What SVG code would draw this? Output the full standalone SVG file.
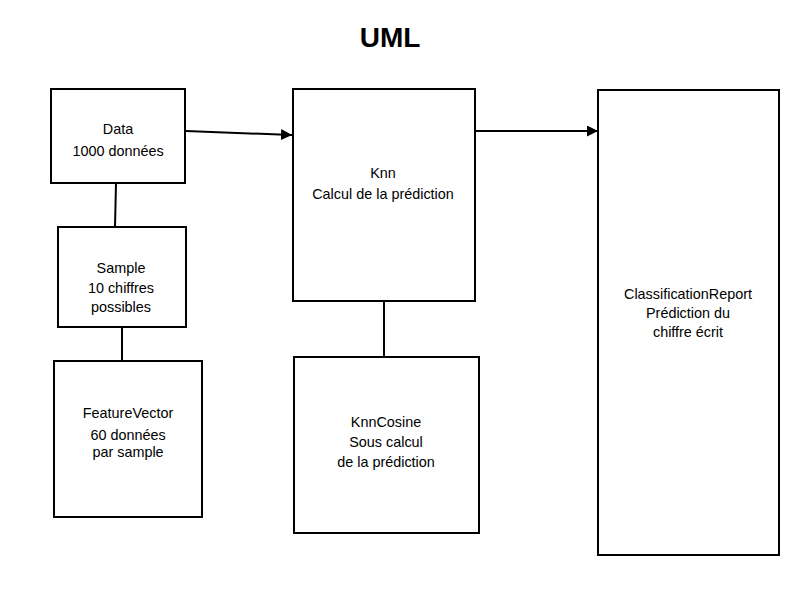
<svg xmlns="http://www.w3.org/2000/svg" width="800" height="600" viewBox="0 0 800 600">
<style>
.box{fill:#fff;stroke:#000;stroke-width:2}
.t{font-family:"Liberation Sans",Arial,sans-serif;font-size:14.4px;text-anchor:middle;fill:#000}
.c{stroke:#000;stroke-width:2;fill:none}
</style>
<defs>
<marker id="arr" viewBox="0 0 10 10" refX="10" refY="5" markerWidth="5.5" markerHeight="5.5" orient="auto" markerUnits="strokeWidth">
<path d="M0,0 L10,5 L0,10 z" fill="#000"/>
</marker>
</defs>
<rect width="800" height="600" fill="#fff"/>
<text x="390" y="47" font-family="Liberation Sans,Arial,sans-serif" font-size="28" font-weight="bold" text-anchor="middle">UML</text>
<g id="connectors">
<line class="c" x1="186" y1="131" x2="292" y2="135" marker-end="url(#arr)"/>
<line class="c" x1="476" y1="131" x2="598" y2="131" marker-end="url(#arr)"/>
<line class="c" x1="116" y1="183" x2="115" y2="227"/>
<line class="c" x1="122" y1="327" x2="122" y2="362"/>
<line class="c" x1="384" y1="301" x2="384" y2="357"/>
</g>
<g id="data">
<rect class="box" x="51" y="89" width="134" height="94"/>
<text class="t" x="118" y="134">Data</text>
<text class="t" x="118" y="156">1000 données</text>
</g>
<g id="sample">
<rect class="box" x="58" y="227" width="128" height="100"/>
<text class="t" x="121" y="273">Sample</text>
<text class="t" x="121" y="293">10 chiffres</text>
<text class="t" x="121" y="312">possibles</text>
</g>
<g id="featurevector">
<rect class="box" x="54" y="361" width="148" height="156"/>
<text class="t" x="128" y="418">FeatureVector</text>
<text class="t" x="128" y="440">60 données</text>
<text class="t" x="128" y="457">par sample</text>
</g>
<g id="knn">
<rect class="box" x="293" y="89" width="182" height="212"/>
<text class="t" x="383" y="178">Knn</text>
<text class="t" x="383" y="199">Calcul de la prédiction</text>
</g>
<g id="knncosine">
<rect class="box" x="294" y="357" width="185" height="176"/>
<text class="t" x="386" y="427">KnnCosine</text>
<text class="t" x="386" y="447">Sous calcul</text>
<text class="t" x="386" y="467">de la prédiction</text>
</g>
<g id="classificationreport">
<rect class="box" x="598" y="90" width="181" height="465"/>
<text class="t" x="688" y="299">ClassificationReport</text>
<text class="t" x="688" y="318">Prédiction du</text>
<text class="t" x="688" y="337">chiffre écrit</text>
</g>
</svg>
